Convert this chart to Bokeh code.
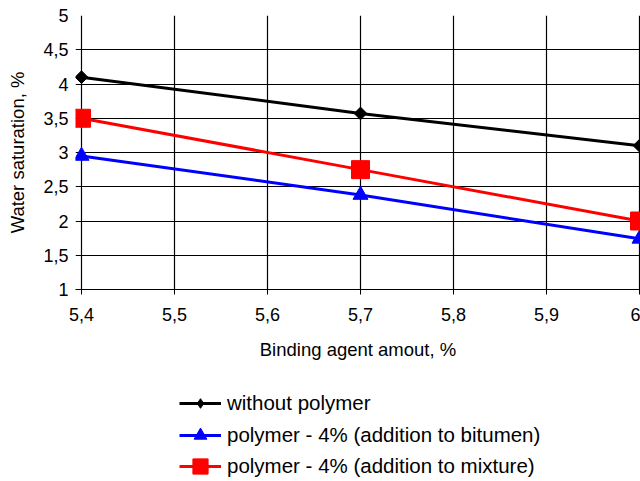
import math
from bokeh.plotting import figure
from bokeh.layouts import column
from bokeh.models import (Range1d, FixedTicker, CustomJSTickFormatter, Legend, LegendItem)
from bokeh.embed import file_html
from bokeh.resources import INLINE

# ---- data ----
binding_agent = [5.4, 5.7, 6.0]
without_polymer = [4.1, 3.57, 3.1]
polymer_bitumen = [2.95, 2.38, 1.74]
polymer_mixture = [3.5, 2.75, 2.0]

x_ticks = [5.4, 5.5, 5.6, 5.7, 5.8, 5.9, 6.0]
y_ticks = [1, 1.5, 2, 2.5, 3, 3.5, 4, 4.5, 5]

series_names = ["without polymer",
                "polymer - 4% (addition to bitumen)",
                "polymer - 4% (addition to mixture)"]

FONT = "Liberation Sans"

# layout: plot box spans pixels 81..639; frame extended 6px left / 1px right
X0, X1 = x_ticks[0], x_ticks[-1]
box_px = 558.0
left_ext, right_ext = 6.0, 1.0
upp = (X1 - X0) / box_px
x_start = X0 - left_ext * upp
x_end = X1 + right_ext * upp

p = figure(width=640, height=370, output_backend="svg", toolbar_location=None,
           x_range=Range1d(x_start, x_end), y_range=Range1d(y_ticks[0], y_ticks[-1]),
           min_border_left=75, min_border_right=0, min_border_top=15,
           min_border_bottom=81)
p.outline_line_color = None
p.background_fill_color = "white"
p.border_fill_color = "white"

fmt = CustomJSTickFormatter(code="return (Math.round(tick*10)/10).toString().replace('.', ',');")

for ax in (p.xaxis[0], p.yaxis[0]):
    ax.formatter = fmt
    ax.axis_line_color = "black"
    ax.major_tick_line_color = "black"
    ax.major_tick_in = 0
    ax.major_tick_out = 5
    ax.minor_tick_line_color = None
    ax.major_label_text_font = FONT
    ax.major_label_text_font_size = "18px"
    ax.major_label_text_color = "black"
    ax.axis_label_text_font = FONT
    ax.axis_label_text_font_size = "18.5px"
    ax.axis_label_text_font_style = "normal"
    ax.axis_label_text_color = "black"

p.xaxis[0].ticker = FixedTicker(ticks=x_ticks)
p.yaxis[0].ticker = FixedTicker(ticks=y_ticks)
p.xaxis[0].axis_label = "Binding agent amout, %"
p.yaxis[0].axis_label = "Water saturation, %"
p.xaxis[0].major_label_standoff = 13
p.xaxis[0].axis_label_standoff = 15
# y axis line / ticks replaced by grid lines extending to the frame edge
p.yaxis[0].axis_line_color = None
p.yaxis[0].major_tick_line_color = None
p.yaxis[0].major_tick_out = 0
p.yaxis[0].major_label_standoff = 7
p.yaxis[0].axis_label_standoff = 12

p.xgrid[0].ticker = FixedTicker(ticks=x_ticks)
p.ygrid[0].ticker = FixedTicker(ticks=y_ticks)
for g in (p.xgrid[0], p.ygrid[0]):
    g.grid_line_color = "black"
    g.grid_line_width = 1.2
    g.grid_line_alpha = 1

series = [
    (without_polymer, "black", dict(marker="square", angle=math.pi / 4, size=9), "diamond"),
    (polymer_bitumen, "#0000FF", dict(marker="triangle", size=15), "triangle"),
    (polymer_mixture, "#FF0000", dict(marker="square", size=18), "square"),
]
for vals, col, mk, _ in series:
    p.line(binding_agent, vals, line_color=col, line_width=3)
    p.scatter(binding_agent, vals, fill_color=col, line_color=col, **mk)

# ---- legend panel (below the chart) ----
p2 = figure(width=640, height=111, output_backend="svg", toolbar_location=None,
            x_range=Range1d(0, 1), y_range=Range1d(0, 1),
            x_axis_location=None, y_axis_location=None, min_border=0)
p2.grid.visible = False
p2.outline_line_color = None
p2.background_fill_color = "white"
p2.border_fill_color = "white"

# one legend per row so each marker gets its own size
row_heights = [24, 32, 38]
row_offsets = [66, 30, -4]
for name, (vals, col, mk, lmk), gh, vy in zip(series_names, series, row_heights, row_offsets):
    # same data; it lies outside this panel's ranges, only the legend glyph shows
    lr = p2.line(binding_agent, vals, line_color=col, line_width=3)
    sr = p2.scatter(binding_agent, vals, marker=lmk, fill_color=col, line_color=col)
    lg = Legend(items=[LegendItem(label=name, renderers=[lr, sr])], location=(104, vy))
    lg.label_text_font = FONT
    lg.label_text_font_size = "20.5px"
    lg.label_text_color = "black"
    lg.glyph_width = 42
    lg.glyph_height = gh
    lg.label_height = gh
    lg.label_standoff = 6
    lg.spacing = 0
    lg.padding = 0
    lg.margin = 0
    lg.border_line_color = None
    lg.background_fill_alpha = 0
    p2.add_layout(lg, "center")

layout = column(p, p2, spacing=0)
open("out.html", "w").write(file_html(layout, INLINE))
